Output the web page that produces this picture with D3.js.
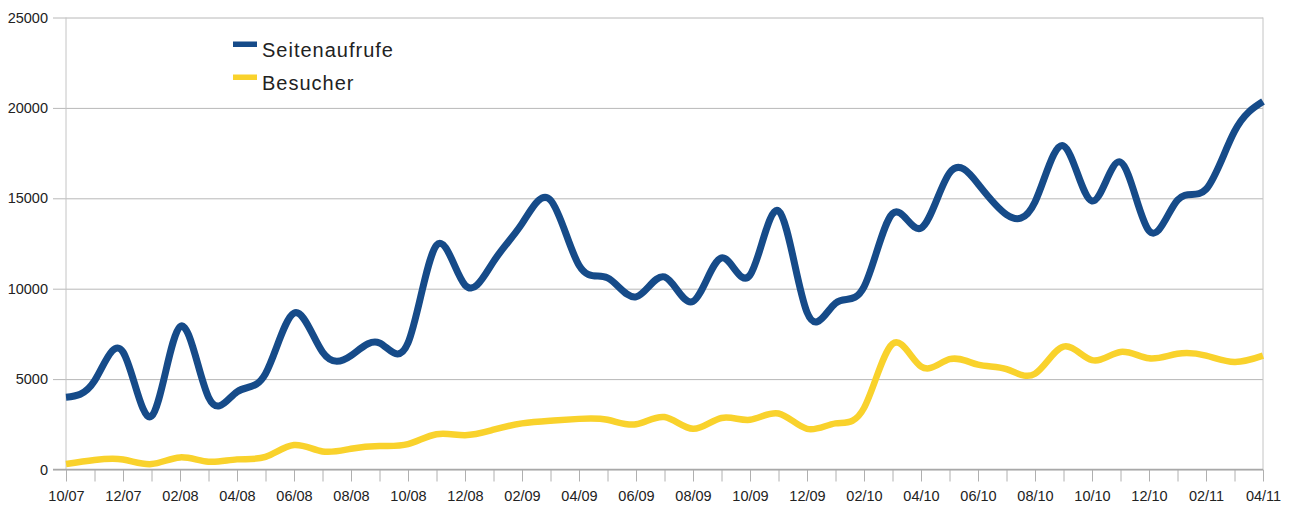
<!DOCTYPE html>
<html>
<head>
<meta charset="utf-8">
<script src="https://cdn.jsdelivr.net/npm/d3@7"></script>
<style>
  body { margin: 0; background: #fff; }
  text { font-family: "Liberation Sans", Arial, sans-serif; fill: #222; }
</style>
</head>
<body>
<script>
const width = 1290,
    height = 506;

// month labels, 10/07 .. 04/11
const months = ["10/07","11/07","12/07","01/08","02/08","03/08","04/08","05/08","06/08","07/08","08/08","09/08",
    "10/08","11/08","12/08","01/09","02/09","03/09","04/09","05/09","06/09","07/09","08/09","09/09",
    "10/09","11/09","12/09","01/10","02/10","03/10","04/10","05/10","06/10","07/10","08/10","09/10",
    "10/10","11/10","12/10","01/11","02/11","03/11","04/11"];

const seitenaufrufe = [4000, 4900, 6500, 2950, 7900, 4000, 4300, 5300, 8650, 6500, 6300, 7000,
    7000, 12400, 10200, 11500, 13600, 14900, 11300, 10600, 9550, 10650, 9300, 11700,
    10750, 14300, 8700, 9200, 10100, 14150, 13350, 16400, 15800, 14100, 14800, 17900,
    14850, 17000, 13200, 14900, 15500, 18700, 20350];

const besucher = [300, 520, 550, 300, 670, 430, 560, 700, 1350, 1000, 1150, 1300,
    1400, 1950, 1900, 2200, 2550, 2700, 2800, 2750, 2500, 2900, 2250, 2850,
    2750, 3100, 2250, 2550, 3400, 6950, 5700, 6100, 5800, 5550, 5300, 6800,
    6050, 6500, 6150, 6400, 6300, 5950, 6300];

const yTicks = [0, 5000, 10000, 15000, 20000, 25000];

const seriesNames = ["Seitenaufrufe", "Besucher"];
const seriesColors = ["#164b89", "#f9d22c"];

// plot box (window.top is taken, so no plain "top")
var plotLeft = 66, plotRight = 1263, plotTop = 17.5, plotBottom = 469.5;

var svg = d3.select("body").append("svg")
    .attr("width", width)
    .attr("height", height);

var x = d3.scalePoint().domain(months).range([plotLeft, plotRight]);
var y = d3.scaleLinear().domain([0, 25000]).range([plotBottom, plotTop]);

// horizontal grid + y labels
var yAxis = svg.append("g")
    .attr("transform", "translate(" + (plotLeft - 13) + ",0)")
    .call(d3.axisLeft(y).tickValues(yTicks).tickFormat(d3.format("d"))
        .tickSizeInner(-(plotRight - plotLeft + 13)).tickSizeOuter(0).tickPadding(5));
yAxis.select(".domain").remove();
yAxis.selectAll("line").attr("stroke", "#b8b8b8");
yAxis.selectAll("text")
    .style("font-size", "14.5px")
    .attr("fill", "#222");

// x axis with a tick every month, label every second month
var xAxis = svg.append("g")
    .attr("transform", "translate(0," + plotBottom + ")")
    .call(d3.axisBottom(x).tickSize(12).tickPadding(9)
        .tickFormat(function(d, i) { return i % 2 == 0 ? d : ""; }));
xAxis.select(".domain").remove();
xAxis.selectAll("line").attr("stroke", "#b0b0b0");
xAxis.selectAll("text")
    .style("font-size", "14.5px")
    .attr("fill", "#222");

// frame lines
svg.append("line")
    .attr("x1", plotLeft).attr("x2", plotLeft).attr("y1", plotTop).attr("y2", plotBottom)
    .attr("stroke", "#c4c4c4");
svg.append("line")
    .attr("x1", plotRight).attr("x2", plotRight).attr("y1", plotTop).attr("y2", plotBottom)
    .attr("stroke", "#c4c4c4");
svg.append("line")
    .attr("x1", plotLeft - 13).attr("x2", plotRight).attr("y1", plotBottom).attr("y2", plotBottom)
    .attr("stroke", "#a8a8a8").attr("stroke-width", 1.5);

var line = d3.line()
    .x(function(d, i) { return x(months[i]); })
    .y(function(d) { return y(d); })
    .curve(d3.curveNatural);

svg.append("path")
    .datum(besucher)
    .attr("d", line)
    .attr("fill", "none")
    .attr("stroke", seriesColors[1])
    .attr("stroke-width", 6.5)
    .attr("stroke-linejoin", "round");

svg.append("path")
    .datum(seitenaufrufe)
    .attr("d", line)
    .attr("fill", "none")
    .attr("stroke", seriesColors[0])
    .attr("stroke-width", 7)
    .attr("stroke-linejoin", "round");

// legend
var legend = svg.append("g")
    .selectAll("g")
    .data(seriesNames)
    .enter().append("g")
    .attr("transform", function(d, i) { return "translate(233," + (44 + i * 33) + ")"; });

legend.append("rect")
    .attr("x", 0).attr("y", -2.5)
    .attr("width", 24).attr("height", 5.5)
    .attr("fill", function(d, i) { return seriesColors[i]; });

legend.append("text")
    .attr("x", 29)
    .attr("y", 12.5)
    .style("font-size", "20px")
    .style("letter-spacing", "1px")
    .attr("fill", "#111")
    .text(function(d) { return d; });
</script>
</body>
</html>
